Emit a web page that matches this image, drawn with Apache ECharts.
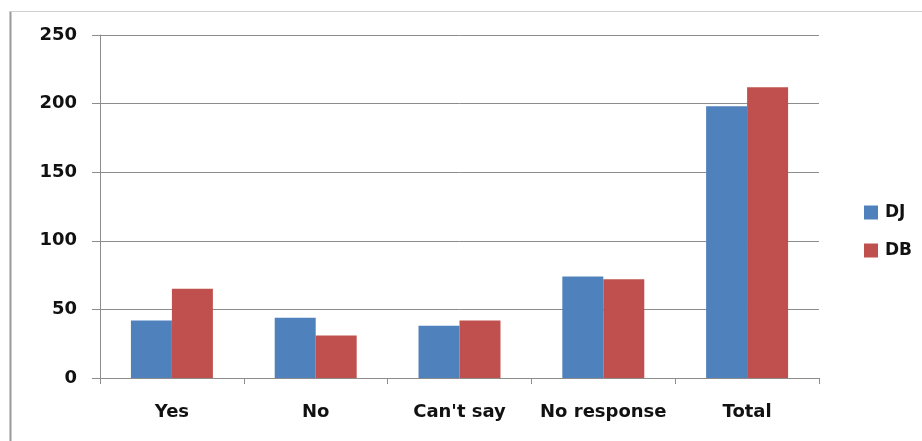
<!DOCTYPE html>
<html>
<head>
<meta charset="utf-8">
<script src="https://cdn.jsdelivr.net/npm/echarts@6/dist/echarts.min.js"></script>
<style>
  html, body { margin: 0; padding: 0; background: #fff; }
  #chart { width: 922px; height: 441px; }
</style>
</head>
<body>
<div id="chart"></div>
<script>
// Survey responses by group
const categories = ["Yes", "No", "Can't say", "No response", "Total"];
const seriesNames = ["DJ", "DB"];
const djValues = [42, 44, 38, 74, 198];
const dbValues = [65, 31, 42, 72, 212];
const yTicks = { min: 0, max: 250, interval: 50 };

const labelFont = {
  fontFamily: "DejaVu Sans",
  fontWeight: "bold",
  fontSize: 18,
  color: "#111"
};

const chart = echarts.init(document.getElementById("chart"), null, { renderer: "canvas" });

chart.setOption({
  animation: false,
  backgroundColor: "#fff",
  graphic: [
    // outer frame: left and top edges
    { type: "line", shape: { x1: 10.5, y1: 11, x2: 10.5, y2: 441 }, style: { stroke: "#999", lineWidth: 2 } },
    { type: "line", shape: { x1: 10, y1: 11.5, x2: 922, y2: 11.5 }, style: { stroke: "#d0d0d0", lineWidth: 1 } }
  ],
  grid: { left: 100, right: 103, top: 35, bottom: 63, containLabel: false },
  legend: {
    orient: "vertical",
    left: 859,
    top: 199,
    itemWidth: 14,
    itemHeight: 14,
    itemGap: 21,
    icon: "rect",
    textStyle: Object.assign({}, labelFont, { fontSize: 17, padding: [0, 0, 0, 2] }),
    data: seriesNames
  },
  xAxis: {
    type: "category",
    data: categories,
    axisLine: { lineStyle: { color: "#8c8c8c", width: 1 } },
    axisTick: { show: true, length: 6, alignWithLabel: false, lineStyle: { color: "#8c8c8c" } },
    axisLabel: Object.assign({}, labelFont, { margin: 25, interval: 0 }),
    splitLine: { show: false }
  },
  yAxis: {
    type: "value",
    min: yTicks.min,
    max: yTicks.max,
    interval: yTicks.interval,
    axisLine: { show: true, lineStyle: { color: "#8c8c8c", width: 1 } },
    axisTick: { show: true, length: 8, inside: false, lineStyle: { color: "#8c8c8c" } },
    axisLabel: Object.assign({}, labelFont, { margin: 23 }),
    splitLine: { show: true, lineStyle: { color: "#8c8c8c", width: 1 } }
  },
  series: [
    {
      name: seriesNames[0],
      type: "bar",
      data: djValues,
      barGap: "0%",
      barCategoryGap: "43%",
      itemStyle: { color: "#4F81BD" }
    },
    {
      name: seriesNames[1],
      type: "bar",
      data: dbValues,
      barGap: "0%",
      barCategoryGap: "43%",
      itemStyle: { color: "#C0504D" }
    }
  ]
});
</script>
</body>
</html>
